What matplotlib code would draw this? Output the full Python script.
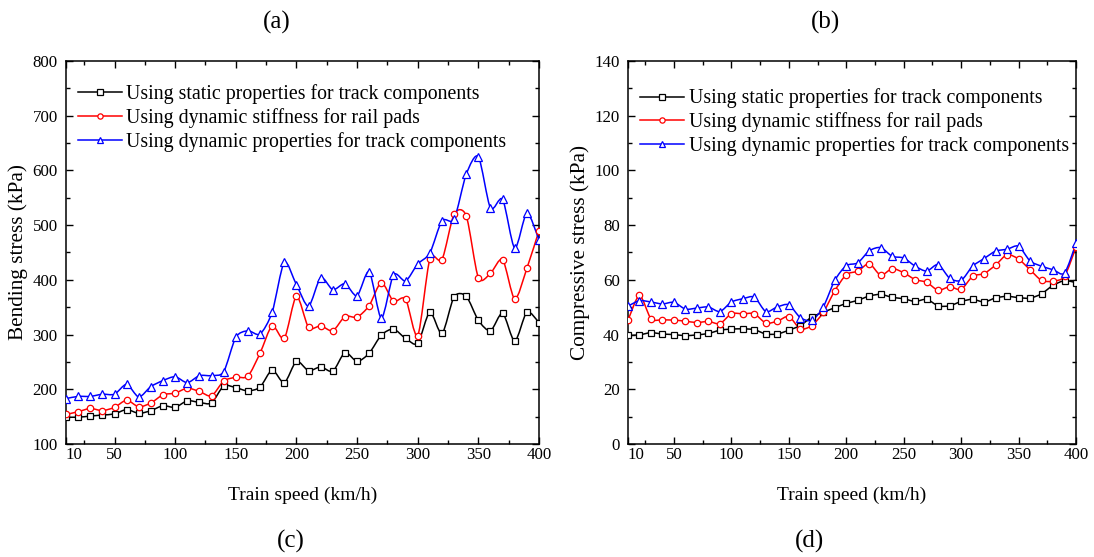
import numpy as np
import matplotlib
matplotlib.use("Agg")
import matplotlib.pyplot as plt
from matplotlib.path import Path
from matplotlib.patches import PathPatch
from matplotlib.ticker import MultipleLocator, FixedLocator

plt.rcParams['font.family'] = ['Liberation Serif', 'DejaVu Serif']
plt.rcParams['mathtext.fontset'] = 'stix'

speed = list(range(10, 401, 10))

series_labels = [
    "Using static properties for track components",
    "Using dynamic stiffness for rail pads",
    "Using dynamic properties for track components",
]

# Bending stress (kPa)
bend_static = [149, 149, 151, 153, 155, 163, 156, 161, 170, 167,
               179, 176, 175, 206, 203, 197, 204, 235, 212, 251,
               234, 241, 233, 267, 251, 266, 299, 310, 293, 284,
               341, 302, 369, 370, 326, 307, 339, 288, 341, 322]
bend_railpad = [154, 159, 165, 161, 167, 180, 168, 175, 190, 193,
                202, 196, 188, 215, 222, 224, 266, 316, 293, 370,
                313, 316, 307, 333, 332, 353, 395, 361, 365, 298,
                438, 437, 520, 517, 404, 412, 437, 365, 421, 490]
bend_dynamic = [183, 187, 187, 191, 191, 209, 186, 205, 216, 223,
                212, 225, 225, 232, 295, 307, 301, 341, 432, 391,
                352, 404, 382, 393, 371, 415, 330, 409, 398, 429,
                449, 508, 511, 593, 625, 531, 547, 458, 522, 473]

# Compressive stress (kPa)
comp_static = [39.7, 39.9, 40.7, 40.2, 40.0, 39.6, 39.9, 40.4, 41.6, 42.0,
               42.1, 41.8, 40.2, 40.2, 41.6, 43.3, 46.4, 48.2, 49.8, 51.4,
               52.5, 54.1, 54.7, 53.6, 53.1, 52.1, 52.9, 50.5, 50.5, 52.1,
               52.9, 51.9, 53.4, 54.0, 53.5, 53.3, 54.9, 58.0, 59.7, 59.0]
comp_railpad = [45.2, 54.3, 45.8, 45.4, 45.3, 44.9, 44.4, 44.8, 44.0, 47.6,
                47.6, 47.6, 44.2, 44.9, 46.6, 42.1, 43.3, 48.1, 56.0, 61.9,
                63.2, 65.9, 61.7, 64.1, 62.6, 60.1, 59.1, 56.2, 57.5, 56.5,
                61.3, 62.3, 65.4, 69.2, 67.6, 63.7, 59.8, 59.5, 61.3, 72.0]
comp_dynamic = [50.4, 52.4, 51.9, 51.2, 51.8, 49.3, 49.7, 50.1, 48.4, 51.9,
                53.1, 53.7, 48.4, 50.1, 50.9, 46.2, 45.2, 50.1, 59.8, 65.2,
                66.2, 70.6, 71.8, 68.6, 68.0, 65.0, 63.2, 65.6, 60.6, 59.8,
                65.0, 67.8, 70.5, 71.2, 72.3, 66.9, 65.0, 63.7, 62.5, 73.3]

colors = ["black", "red", "blue"]
markers = ["s", "o", "^"]
msizes = [4.3, 4.6, 5.4]


def smooth_path(x, y, tension=0.8):
    """Cubic Bezier path passing through every (x, y) point."""
    x = np.asarray(x, float)
    y = np.asarray(y, float)
    n = len(x)
    verts = [(x[0], y[0])]
    codes = [Path.MOVETO]
    for i in range(n - 1):
        i0 = max(i - 1, 0)
        i3 = min(i + 2, n - 1)
        c1 = (x[i] + tension * (x[i + 1] - x[i0]) / 6,
              y[i] + tension * (y[i + 1] - y[i0]) / 6)
        c2 = (x[i + 1] - tension * (x[i3] - x[i]) / 6,
              y[i + 1] - tension * (y[i3] - y[i]) / 6)
        verts += [c1, c2, (x[i + 1], y[i + 1])]
        codes += [Path.CURVE4] * 3
    return Path(verts, codes)


def draw_panel(ax, data, ylim, ymajor, yminor, ylabel, legend_anchor):
    for vals, c, m, ms, lab in zip(data, colors, markers, msizes, series_labels):
        ax.add_patch(PathPatch(smooth_path(speed, vals), facecolor="none",
                               edgecolor=c, lw=1.1, zorder=2))
        ax.plot(speed, vals, linestyle="none", marker=m, ms=ms, mfc="white",
                mec=c, mew=0.9, zorder=3)
        ax.plot([], [], color=c, lw=1.1, marker=m, ms=3.8, mfc="white",
                mec=c, mew=0.9, label=lab)
    ax.set_xlim(10, 400)
    ax.set_ylim(*ylim)
    ax.xaxis.set_major_locator(FixedLocator([10, 50, 100, 150, 200, 250, 300, 350, 400]))
    ax.xaxis.set_minor_locator(FixedLocator([25, 75, 125, 175, 225, 275, 325, 375]))
    ax.yaxis.set_major_locator(MultipleLocator(ymajor))
    ax.yaxis.set_minor_locator(MultipleLocator(yminor))
    ax.tick_params(which="both", direction="in", top=True, right=True,
                   labelsize=12.2, width=1.0)
    ax.tick_params(axis="x", pad=2)
    ax.tick_params(axis="y", pad=6)
    ax.tick_params(which="major", length=5)
    ax.tick_params(which="minor", length=3)
    for sp in ax.spines.values():
        sp.set_linewidth(1.1)
    ax.figure.canvas.draw()
    xt = ax.get_xticklabels()
    xt[0].set_horizontalalignment("left")
    ax.set_xlabel("Train speed (km/h)", fontsize=14, labelpad=17)
    ax.set_ylabel(ylabel, fontsize=15.3, labelpad=3)
    ax.legend(loc="upper left", bbox_to_anchor=legend_anchor, frameon=False,
              fontsize=14.3, handlelength=2.2, handletextpad=0.25,
              labelspacing=0.2, borderaxespad=0.0, borderpad=0.0)


fig = plt.figure(figsize=(10.94, 5.57), dpi=100)
W, H = 1094, 557
ax1 = fig.add_axes([66 / W, 1 - 444 / H, (539 - 66) / W, (444 - 61) / H])
ax2 = fig.add_axes([628 / W, 1 - 444 / H, (1076 - 628) / W, (444 - 61) / H])

draw_panel(ax1, [bend_static, bend_railpad, bend_dynamic], (100, 800), 100, 50,
           "Bending stress (kPa)", (0.025, 0.94))
draw_panel(ax2, [comp_static, comp_railpad, comp_dynamic], (0, 140), 20, 10,
           "Compressive stress (kPa)", (0.027, 0.928))

fig.text(277 / W, 1 - 22 / H, "(a)", fontsize=18, ha="center", va="center")
fig.text(826 / W, 1 - 22 / H, "(b)", fontsize=18, ha="center", va="center")
fig.text(291 / W, 1 - 541 / H, "(c)", fontsize=18, ha="center", va="center")
fig.text(809 / W, 1 - 541 / H, "(d)", fontsize=18, ha="center", va="center")

fig.savefig("out.png", dpi=100)
